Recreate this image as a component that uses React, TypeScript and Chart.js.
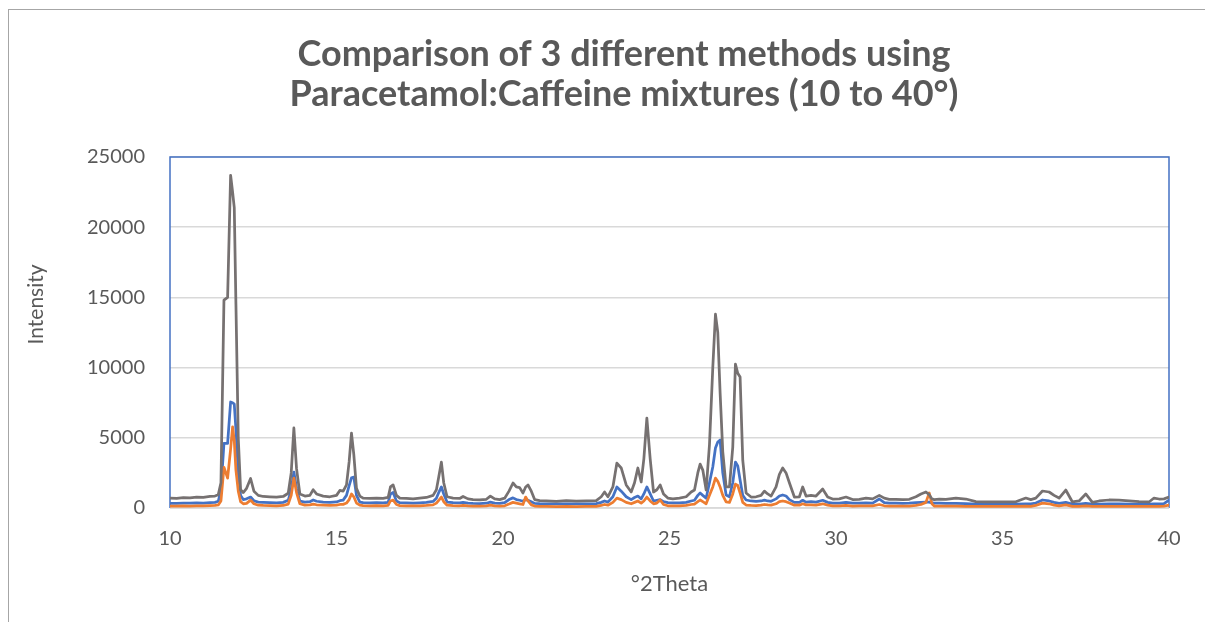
import { useEffect, useRef } from "react";
import { Chart, registerables } from "chart.js";

Chart.register(...registerables);

const TITLE_LINES = ["Comparison of 3 different methods using", "Paracetamol:Caffeine mixtures (10 to 40°)"];
const X_TITLE = "°2Theta";
const Y_TITLE = "Intensity";
const X_TICKS = [10, 15, 20, 25, 30, 35, 40];
const Y_TICKS = [0, 5000, 10000, 15000, 20000, 25000];

const TWO_THETA = [
  10.0, 10.2, 10.4, 10.6, 10.8, 11.0, 11.2, 11.35, 11.45, 11.53,
  11.62, 11.73, 11.82, 11.88, 11.93, 11.98, 12.05, 12.12, 12.2, 12.3,
  12.42, 12.52, 12.65, 12.8, 13.0, 13.2, 13.4, 13.55, 13.64, 13.72,
  13.8, 13.9, 14.05, 14.2, 14.3, 14.4, 14.6, 14.8, 15.0, 15.1,
  15.2, 15.3, 15.38, 15.45, 15.52, 15.6, 15.7, 15.8, 16.0, 16.2,
  16.4, 16.55, 16.62, 16.7, 16.8, 16.9, 17.1, 17.3, 17.5, 17.7,
  17.9, 18.0, 18.07, 18.15, 18.22, 18.32, 18.5, 18.7, 18.8, 18.95,
  19.1, 19.3, 19.5, 19.62, 19.75, 19.9, 20.05, 20.18, 20.3, 20.4,
  20.5, 20.6, 20.68, 20.75, 20.85, 20.95, 21.1, 21.3, 21.6, 21.9,
  22.2, 22.5, 22.8, 22.95, 23.05, 23.15, 23.3, 23.42, 23.55, 23.7,
  23.85, 23.95, 24.05, 24.15, 24.23, 24.32, 24.42, 24.52, 24.62, 24.72,
  24.82, 24.95, 25.1, 25.3, 25.5, 25.65, 25.75, 25.85, 25.92, 26.0,
  26.1, 26.2, 26.3, 26.38, 26.45, 26.52, 26.6, 26.7, 26.8, 26.9,
  26.98, 27.05, 27.12, 27.2, 27.3, 27.45, 27.6, 27.75, 27.85, 27.95,
  28.05, 28.2, 28.3, 28.4, 28.5, 28.6, 28.75, 28.9, 29.0, 29.1,
  29.25, 29.4, 29.6, 29.75, 29.9, 30.1, 30.3, 30.5, 30.7, 30.9,
  31.1, 31.3, 31.45, 31.6, 31.8, 32.0, 32.2, 32.4, 32.55, 32.7,
  32.8, 32.88, 32.95, 33.1, 33.3, 33.6, 33.9, 34.2, 34.5, 34.8,
  35.1, 35.4, 35.7, 35.85, 36.0, 36.2, 36.4, 36.55, 36.7, 36.9,
  37.1, 37.3, 37.5, 37.7, 37.9, 38.2, 38.5, 38.8, 39.1, 39.4,
  39.55, 39.7, 39.85, 40.0,
];

const SERIES_GRAY = [
  700, 690, 740, 720, 780, 760, 820, 850, 950, 1800,
  14800, 15000, 23700, 22500, 21400, 14500, 5000, 1300, 1100, 1400,
  2100, 1200, 900, 820, 800, 780, 820, 1050, 2500, 5700,
  2800, 1000, 850, 900, 1300, 1000, 850, 800, 900, 1250,
  1200, 1650, 3300, 5340, 3800, 1400, 850, 700, 690, 700,
  680, 750, 1500, 1650, 900, 700, 680, 650, 700, 750,
  900, 1300, 2200, 3270, 1800, 800, 700, 680, 820, 650,
  600, 580, 620, 850, 650, 600, 700, 1200, 1780, 1500,
  1450, 1070, 1500, 1640, 1200, 600, 520, 500, 480, 520,
  490, 510, 530, 800, 1140, 800, 1500, 3200, 2850, 1640,
  1140, 1800, 2850, 1850, 3500, 6400, 3500, 1140, 1300, 1640,
  1000, 710, 650, 700, 800, 1140, 1280, 2500, 3130, 2700,
  1280, 4500, 10000, 13800, 12500, 8200, 4000, 1500, 1500, 4340,
  10250, 9600, 9330, 3400, 1070, 780, 800, 900, 1200, 1000,
  850, 1500, 2400, 2850, 2500, 1800, 780, 800, 1500, 850,
  900, 850, 1350, 780, 640, 650, 780, 600, 620, 700,
  650, 900, 700, 620, 610, 600, 620, 800, 1000, 1140,
  950, 650, 600, 640, 620, 700, 640, 450, 430, 440,
  430, 440, 710, 600, 700, 1210, 1140, 900, 710, 1280,
  430, 500, 1000, 400, 500, 570, 560, 500, 450, 430,
  710, 640, 650, 780,
];

const SERIES_BLUE = [
  330, 330, 350, 340, 360, 350, 380, 400, 480, 1300,
  4600, 4600, 7550, 7500, 7400, 5600, 2500, 900, 600, 650,
  780, 520, 420, 400, 380, 370, 400, 550, 1300, 2560,
  1400, 500, 420, 450, 570, 480, 420, 400, 430, 520,
  560, 900, 1600, 2150, 2200, 900, 420, 380, 370, 380,
  360, 400, 1000, 1100, 500, 380, 370, 350, 370, 400,
  470, 700, 1100, 1500, 1000, 420, 380, 370, 400, 350,
  330, 320, 340, 420, 350, 330, 380, 600, 720, 600,
  550, 480, 600, 550, 450, 330, 310, 300, 290, 300,
  300, 300, 310, 400, 500, 420, 800, 1500, 1200, 800,
  600, 750, 850, 650, 1000, 1500, 1000, 500, 550, 600,
  450, 380, 360, 370, 400, 500, 550, 900, 1070, 900,
  700, 1800, 2920, 4270, 4700, 4840, 2500, 930, 800, 1800,
  3270, 3000, 2000, 900, 570, 500, 480, 500, 560, 500,
  480, 650, 850, 930, 850, 600, 400, 400, 550, 420,
  450, 420, 550, 400, 350, 350, 400, 340, 350, 360,
  350, 640, 380, 340, 340, 330, 340, 380, 400, 420,
  420, 360, 340, 340, 330, 330, 320, 280, 280, 280,
  280, 280, 300, 300, 350, 570, 500, 400, 330, 400,
  280, 280, 330, 270, 280, 290, 290, 280, 280, 280,
  300, 300, 310, 570,
];

const SERIES_ORANGE = [
  140, 130, 150, 140, 150, 150, 170, 180, 220, 500,
  2900, 2130, 4200, 5770, 4800, 2700, 1200, 450, 300, 330,
  560, 300, 200, 180, 170, 160, 180, 280, 900, 2130,
  1100, 300, 200, 220, 280, 230, 200, 180, 200, 250,
  260, 350, 600, 1000, 800, 350, 200, 170, 160, 170,
  160, 180, 500, 560, 250, 170, 160, 150, 160, 180,
  220, 350, 550, 780, 450, 200, 170, 160, 180, 150,
  140, 130, 150, 200, 150, 140, 160, 280, 400, 350,
  300, 250, 780, 500, 220, 140, 120, 110, 100, 110,
  100, 110, 120, 180, 250, 200, 400, 700, 600, 400,
  300, 400, 500, 350, 500, 780, 500, 300, 350, 570,
  250, 160, 150, 160, 180, 250, 280, 450, 570, 450,
  300, 900, 1500, 2130, 1900, 1500, 900, 430, 400, 1000,
  1700, 1600, 1070, 400, 210, 180, 170, 200, 250, 220,
  200, 300, 450, 500, 450, 350, 200, 200, 300, 220,
  230, 200, 300, 200, 150, 150, 180, 140, 150, 160,
  150, 250, 160, 140, 140, 130, 140, 180, 250, 400,
  1070, 300, 140, 130, 130, 130, 120, 110, 110, 110,
  110, 110, 130, 120, 180, 350, 300, 200, 150, 220,
  120, 120, 150, 110, 110, 120, 120, 110, 110, 110,
  120, 120, 130, 200,
];

const FONT = "Lato, 'Open Sans', sans-serif";
const TEXT_COLOR = "#595959";

export default function App() {
  const canvasRef = useRef<HTMLCanvasElement | null>(null);

  useEffect(() => {
    const canvas = canvasRef.current;
    if (!canvas) return;
    const mk = (ys: number[]) => TWO_THETA.map((x, i) => ({ x, y: ys[i] }));

    const plotBorder = {
      id: "plotBorder",
      beforeDatasetsDraw(chart: any) {
        const { ctx, chartArea } = chart;
        const { left, top, right, bottom } = chartArea;
        ctx.save();
        ctx.strokeStyle = "#4472C4";
        ctx.lineWidth = 1.5;
        ctx.beginPath();
        ctx.moveTo(left, bottom);
        ctx.lineTo(left, top);
        ctx.lineTo(right, top);
        ctx.lineTo(right, bottom);
        ctx.stroke();
        ctx.strokeStyle = "#d9d9d9";
        ctx.beginPath();
        ctx.moveTo(left, bottom);
        ctx.lineTo(right, bottom);
        ctx.stroke();
        ctx.restore();
      },
    };

    const yTitle = {
      id: "yTitle",
      afterDraw(chart: any) {
        const { ctx, chartArea } = chart;
        const cy = chartArea.top + (chartArea.bottom - chartArea.top) * 0.42;
        ctx.save();
        ctx.translate(27, cy);
        ctx.rotate(-Math.PI / 2);
        ctx.fillStyle = TEXT_COLOR;
        ctx.font = `21px ${FONT}`;
        ctx.textAlign = "center";
        ctx.textBaseline = "middle";
        ctx.fillText(Y_TITLE, 0, 0);
        ctx.restore();
      },
    };

    const chart = new Chart(canvas, {
      type: "line",
      data: {
        datasets: [
          { label: "Method 1", data: mk(SERIES_BLUE), borderColor: "#4472C4", backgroundColor: "#4472C4", order: 2 },
          { label: "Method 2", data: mk(SERIES_ORANGE), borderColor: "#ED7D31", backgroundColor: "#ED7D31", order: 1 },
          { label: "Method 3", data: mk(SERIES_GRAY), borderColor: "#767171", backgroundColor: "#767171", order: 0 },
        ],
      },
      options: {
        animation: false,
        responsive: false,
        elements: {
          point: { radius: 0 },
          line: { borderWidth: 2.75, tension: 0, borderJoinStyle: "round", borderCapStyle: "round" },
        },
        layout: { padding: 0 },
        plugins: {
          legend: { display: false },
          tooltip: { enabled: false },
          title: {
            display: true,
            text: TITLE_LINES,
            color: TEXT_COLOR,
            font: { family: FONT, size: 36, weight: "bold", lineHeight: "40px" },
            padding: { top: 24, bottom: 43 },
          },
        },
        scales: {
          x: {
            type: "linear",
            min: 10,
            max: 40,
            afterBuildTicks: (s: any) => {
              s.ticks = X_TICKS.map((v) => ({ value: v }));
            },
            afterFit: (s: any) => {
              s.height = 114;
            },
            grid: { display: false, drawTicks: false },
            border: { display: false },
            ticks: { color: TEXT_COLOR, font: { family: FONT, size: 20 }, padding: 19, maxRotation: 0, autoSkip: false },
            title: {
              display: true,
              text: X_TITLE,
              color: TEXT_COLOR,
              font: { family: FONT, size: 22 },
              padding: { top: 0, bottom: 25 },
            },
          },
          y: {
            min: 0,
            max: 25000,
            afterBuildTicks: (s: any) => {
              s.ticks = Y_TICKS.map((v) => ({ value: v }));
            },
            afterFit: (s: any) => {
              s.width = 161;
            },
            grid: { color: "#d9d9d9", lineWidth: 1.5, drawTicks: false },
            border: { display: false },
            ticks: {
              color: TEXT_COLOR,
              font: { family: FONT, size: 20 },
              padding: 25,
              callback: (v: any) => String(v),
            },
            title: { display: false },
          },
          yRight: {
            position: "right",
            min: 0,
            max: 1,
            grid: { display: false, drawTicks: false },
            border: { display: false },
            ticks: { display: false },
            afterFit: (s: any) => {
              s.width = 70;
            },
          },
        },
      } as any,
      plugins: [plotBorder, yTitle],
    });

    return () => chart.destroy();
  }, []);

  return (
    <div style={{ position: "fixed", left: 0, top: 0, width: 1205, height: 622, overflow: "hidden", background: "#fff" }}>
      <div
        style={{
          position: "absolute",
          left: 8,
          top: 9,
          width: 1240,
          height: 640,
          borderLeft: "1px solid #a6a6a6",
          borderTop: "1px solid #a6a6a6",
        }}
      >
        <canvas ref={canvasRef} width={1230} height={612} style={{ display: "block", width: 1230, height: 612 }} />
      </div>
    </div>
  );
}
